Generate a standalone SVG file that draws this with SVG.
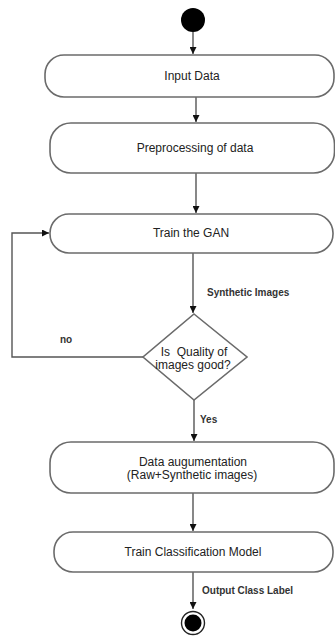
<svg xmlns="http://www.w3.org/2000/svg" width="335" height="639" viewBox="0 0 335 639">
<style>
.box{fill:#fff;stroke:#6b6b6b;stroke-width:1.6}
.t{font-family:"Liberation Sans",Arial,sans-serif;font-size:12px;fill:#222;text-anchor:middle;white-space:pre}
.lbl{font-family:"Liberation Sans",Arial,sans-serif;font-size:10px;font-weight:bold;fill:#333}
.ln{fill:none;stroke:#555;stroke-width:1.4}
</style>
<defs>
<marker id="ah" viewBox="0 0 10 10" refX="10" refY="5" markerWidth="7" markerHeight="7" markerUnits="userSpaceOnUse" orient="auto">
<path d="M0,0 L10,5 L0,10 Z" fill="#111"/>
</marker>
</defs>
<rect width="335" height="639" fill="#fff"/>
<g id="connectors">
<line class="ln" x1="193" y1="32" x2="193" y2="54" marker-end="url(#ah)"/>
<line class="ln" x1="196" y1="97" x2="196" y2="122" marker-end="url(#ah)"/>
<line class="ln" x1="196" y1="173" x2="196" y2="213" marker-end="url(#ah)"/>
<line class="ln" x1="193" y1="253" x2="193" y2="313" marker-end="url(#ah)"/>
<polyline class="ln" points="143,357 12,357 12,233 49,233" marker-end="url(#ah)"/>
<line class="ln" x1="194" y1="400" x2="194" y2="441" marker-end="url(#ah)"/>
<line class="ln" x1="193" y1="493" x2="193" y2="531" marker-end="url(#ah)"/>
<line class="ln" x1="193" y1="572" x2="193" y2="609" marker-end="url(#ah)"/>
<text class="lbl" x="207" y="296">Synthetic Images</text>
<text class="lbl" x="60" y="343">no</text>
<text class="lbl" x="200" y="423">Yes</text>
<text class="lbl" x="202" y="594">Output Class Label</text>
</g>
<g id="start"><circle cx="193" cy="20" r="12" fill="#000"/></g>
<g id="input"><rect class="box" x="45" y="55" width="289" height="42" rx="19"/><text class="t" x="192" y="80">Input Data</text></g>
<g id="preprocess"><rect class="box" x="50" y="123" width="284.5" height="50" rx="21"/><text class="t" x="195" y="152">Preprocessing of data</text></g>
<g id="gan"><rect class="box" x="50" y="214" width="283" height="39" rx="19"/><text class="t" x="191" y="237">Train the GAN</text></g>
<g id="decision"><polygon class="box" points="194,314 247,357 194,400 143,357"/><text class="t" x="194" y="356" xml:space="preserve">Is  Quality of</text><text class="t" x="193" y="369">images good?</text></g>
<g id="augment"><rect class="box" x="50" y="442" width="284" height="51" rx="21"/><text class="t" x="193" y="466">Data augumentation</text><text class="t" x="192" y="479">(Raw+Synthetic images)</text></g>
<g id="classify"><rect class="box" x="54" y="532" width="279" height="40" rx="19"/><text class="t" x="193" y="556">Train Classification Model</text></g>
<g id="end"><circle cx="193" cy="623" r="11.5" fill="#fff" stroke="#222" stroke-width="1.4"/><circle cx="193" cy="623" r="8.5" fill="#000"/></g>
</svg>
